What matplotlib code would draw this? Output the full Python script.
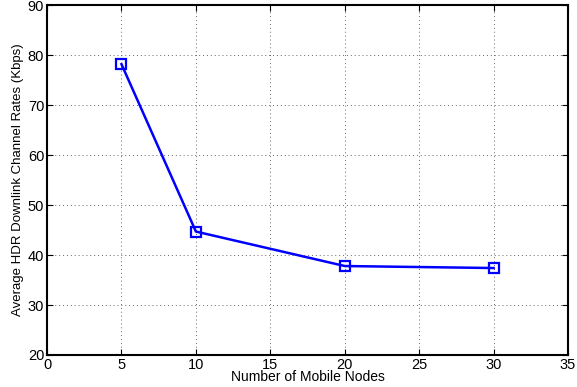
import matplotlib
matplotlib.use("Agg")
import matplotlib.pyplot as plt

nodes = [5, 10, 20, 30]
rates = [78.2, 44.7, 37.8, 37.4]
xticks = [0, 5, 10, 15, 20, 25, 30, 35]
yticks = [20, 30, 40, 50, 60, 70, 80, 90]

plt.rcParams['font.family'] = ['Liberation Sans', 'DejaVu Sans']

fig = plt.figure(figsize=(5.77, 3.87), dpi=100)
ax = fig.add_axes([0.0815, 0.0827, 0.903, 0.904])
ax.plot(nodes, rates, color='#0000ff', linewidth=1.8, marker='s', markersize=7,
        markerfacecolor='none', markeredgecolor='#0000ff', markeredgewidth=1.6)
ax.set_xlim(0, 35)
ax.set_ylim(20, 90)
ax.set_xticks(xticks)
ax.set_yticks(yticks)
ax.tick_params(direction='in', labelsize=10.5, length=4, width=0.8, top=True, right=True, pad=2)
ax.grid(True, linestyle=(0, (1, 3)), color='#666666', linewidth=0.7)
for s in ax.spines.values():
    s.set_linewidth(1.5)
ax.set_xlabel('Number of Mobile Nodes', fontsize=10, labelpad=-1)
ax.set_ylabel('Average HDR Downlink Channel Rates (Kbps)', fontsize=9.5, labelpad=3)
fig.savefig('out.png', dpi=100)
